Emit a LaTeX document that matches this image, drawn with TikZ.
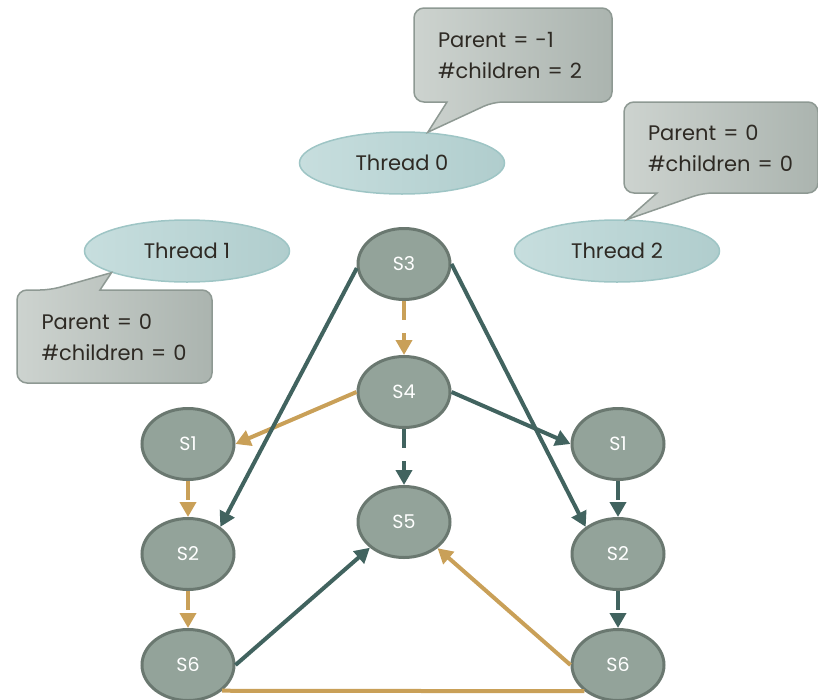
\documentclass[tikz,border=0pt]{standalone}
\usepackage{fontspec}
\setmainfont{Poppins}
\usetikzlibrary{shapes.geometric,arrows.meta}

\definecolor{stfill}{HTML}{93A39A}
\definecolor{stborder}{HTML}{6A7870}
\definecolor{teal}{HTML}{41635F}
\definecolor{gold}{HTML}{C9A058}
\definecolor{thrA}{HTML}{C7DEDE}
\definecolor{thrB}{HTML}{B0CDCD}
\definecolor{thrborder}{HTML}{9EC5C5}
\definecolor{calA}{HTML}{CDD3CF}
\definecolor{calB}{HTML}{ABB4AF}
\definecolor{calborder}{HTML}{8E9993}
\definecolor{ink}{HTML}{2E2A24}

\tikzset{
  state/.style={ellipse, draw=stborder, line width=3pt, fill=stfill,
    minimum width=92pt, minimum height=71pt, inner sep=0pt,
    text=white, font=\fontsize{19}{20}\selectfont},
  thread/.style={ellipse, draw=thrborder, line width=1.5pt,
    left color=thrA, right color=thrB,
    minimum width=205pt, minimum height=62pt, inner sep=0pt,
    text=ink, font=\fontsize{21}{24}\selectfont},
  bubble/.style={draw=calborder, line width=1.5pt, left color=calA, right color=calB},
  infotext/.style={inner sep=0pt, align=left, text=ink,
    font=\fontsize{21}{31}\selectfont},
  tealarrow/.style={draw=teal, line width=4pt, -{Triangle[length=15pt,width=16pt]}},
  goldarrow/.style={draw=gold, line width=4pt, -{Triangle[length=15pt,width=16pt]}},
  broken/.style={dash pattern=on 19pt off 13pt},
}

\begin{document}
\begin{tikzpicture}[x=1pt,y=-1pt]
\useasboundingbox (0,0) rectangle (818,699);

% thread labels
\node[thread] (t0) at (402,163) {Thread 0};
\node[thread] (t1) at (187,251) {Thread 1};
\node[thread] (t2) at (617,251) {Thread 2};

% speech bubbles pointing at their threads
\path[bubble] (414,55) [rounded corners=10pt] -- (414,8) -- (612,8) -- (612,102)
  -- (493,102) [sharp corners] -- (t0.50) -- (447,102)
  [rounded corners=10pt] -- (414,102) -- cycle;
\path[bubble] (624,150) [rounded corners=10pt] -- (624,102) -- (818,102) -- (818,193)
  -- (703,193) [sharp corners] -- (t2.72) -- (657,193)
  [rounded corners=10pt] -- (624,193) -- cycle;
\path[bubble] (17,336) [rounded corners=10pt] -- (17,290) -- (50,290) [sharp corners]
  -- (t1.196) -- (100,290) [rounded corners=10pt] -- (212,290) -- (212,383)
  -- (17,383) -- cycle;

% per-thread bookkeeping
\node[infotext, text width=150pt] (c0) at (513,56) {Parent = -1\\\#children = 2};
\node[infotext, text width=146pt] (c2) at (721,148) {Parent = 0\\\#children = 0};
\node[infotext, text width=147pt] (c1) at (115,337) {Parent = 0\\\#children = 0};

% statements
\node[state] (S3)  at (404,264) {S3};
\node[state] (S4)  at (404,392) {S4};
\node[state] (S5)  at (404,522) {S5};
\node[state] (S1L) at (188,444) {S1};
\node[state] (S2L) at (188,554) {S2};
\node[state] (S6L) at (188,665) {S6};
\node[state] (S1R) at (618,444) {S1};
\node[state] (S2R) at (618,554) {S2};
\node[state] (S6R) at (618,665) {S6};

% dependencies
\draw[goldarrow, broken] (S3.south) -- (S4.north);
\draw[goldarrow] (S4.west) -- (S1L.east);
\draw[tealarrow] (S4.east) -- (S1R.west);
\draw[tealarrow, broken] (S4.south) -- (S5.north);
\draw[tealarrow] (S3.185) -- (S2L.40);
\draw[tealarrow] (S3.east) -- (S2R.140);
\draw[goldarrow, broken] (S1L.south) -- (S2L.north);
\draw[goldarrow, broken] (S2L.south) -- (S6L.north);
\draw[tealarrow, broken] (S1R.south) -- (S2R.north);
\draw[tealarrow, broken] (S2R.south) -- (S6R.north);
\draw[tealarrow] (S6L.east) -- (S5.217);
\draw[goldarrow] (S6R.west) -- (S5.-38);
\draw[draw=gold, line width=4pt] (S6L.-37) -- (S6R.218);
\end{tikzpicture}
\end{document}
